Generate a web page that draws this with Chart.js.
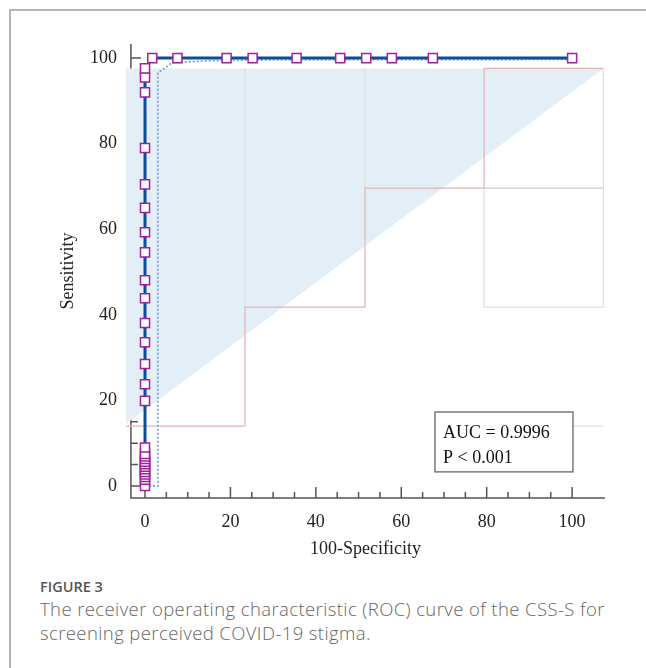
<!DOCTYPE html>
<html>
<head>
<meta charset="utf-8">
<script src="https://cdn.jsdelivr.net/npm/chart.js@4.4.1/dist/chart.umd.min.js"></script>
<style>
  body { margin: 0; background: #fff; }
  #frame { position: absolute; left: 9px; top: 9px; width: 640px; height: 662px;
           border-top: 2px solid #b4b4b4; border-left: 2px solid #b4b4b4; }
  #wrap { position: absolute; left: 0; top: 0; width: 646px; height: 560px; }
  #cap { position: absolute; left: 40px; top: 577px; width: 604px; font-family: "Open Sans", sans-serif; color: #666; }
  #cap .fig { font-size: 14.5px; font-weight: 600; color: #555; margin-bottom: 1px; }
  #cap .txt { font-size: 18.5px; line-height: 24px; font-weight: 300; letter-spacing: 0.4px; }
</style>
</head>
<body>
<div id="frame"></div>
<div id="wrap"><canvas id="roc"></canvas></div>
<div id="cap">
  <div class="fig">FIGURE 3</div>
  <div class="txt">The receiver operating characteristic (ROC) curve of the CSS-S for<br>screening perceived COVID-19 stigma.</div>
</div>
<script>
// ROC curve points (100-Specificity, Sensitivity)
const fpr  = [0, 0, 0, 0, 0, 0, 0, 0, 0, 0, 0, 0, 0, 0, 0, 0, 0, 0, 0, 0, 0, 0, 0, 0, 0, 0, 0, 0,
              1.7, 7.6, 19.1, 25.2, 35.5, 45.7, 51.8, 57.8, 67.4, 100];
const sens = [0, 1.5, 2.1, 2.7, 3.3, 3.9, 4.5, 5.1, 5.7, 6.3, 6.9, 7.5, 9.0, 19.9, 23.8, 28.5, 33.6, 38.1,
              43.9, 48.1, 54.6, 59.3, 65.0, 70.5, 79.0, 92.0, 95.5, 97.6,
              100, 100, 100, 100, 100, 100, 100, 100, 100, 100];

// dotted lower curve
const lowX = [0, 3.0, 3.0, 6.3, 15, 30, 100];
const lowY = [0, 0, 96.5, 98.9, 99.4, 99.6, 99.7];

// shaded band
const bandX = [-4.45, 107.3];
const bandTop = [97.6, 97.6];
const bandBottom = [14.5, 97.6];

// pink step line
const stepX = [-4.45, 23.4, 23.4, 51.5, 51.5, 79.4, 79.4, 107.3];
const stepY = [14, 14, 41.8, 41.8, 69.6, 69.6, 97.6, 97.6];

// grey segments
const greySegX = [[23.4, 23.4], [51.5, 51.5], [79.4, 79.4, 107.3, 107.3], [79.4, 107.3], [100.2, 107.3]];
const greySegY = [[41.8, 97.6], [69.6, 97.6], [69.6, 41.8, 41.8, 97.6], [69.6, 69.6], [14, 14]];

const xTicks = [0, 20, 40, 60, 80, 100];
const yTicks = [0, 20, 40, 60, 80, 100];
const aucText = ['AUC = 0.9996', 'P < 0.001'];

const pts = (xs, ys) => xs.map((x, i) => ({x: x, y: ys[i]}));
const serif = 'Liberation Serif';

const greySets = greySegX.map((xs, i) => ({
  data: pts(xs, greySegY[i]),
  showLine: true, borderColor: i === 3 ? '#cfcfcf' : '#dedede', borderWidth: 1.2,
  pointRadius: 0, fill: false
}));

const datasets = [
  { // ROC curve
    data: pts(fpr, sens), showLine: true,
    borderColor: '#0c4c9a', borderWidth: 3,
    pointStyle: 'rect', pointRadius: 6.4, pointBorderWidth: 1.5,
    pointBorderColor: '#a020a0', pointBackgroundColor: '#ffffff'
  },
  { // dotted
    data: pts(lowX, lowY), showLine: true,
    borderColor: '#78a4d8', borderWidth: 1.8, borderDash: [2, 2], pointRadius: 0
  },
  {
    data: pts(stepX, stepY), showLine: true,
    borderColor: '#e2b4b4', borderWidth: 1.2, pointRadius: 0
  },
  ...greySets,
  { // band top, filled down to diagonal (next dataset)
    data: pts(bandX, bandTop), showLine: true, borderWidth: 0, pointRadius: 0,
    backgroundColor: '#e3eef7', fill: {target: 4 + greySets.length}
  },
  {
    data: pts(bandX, bandBottom), showLine: true, borderWidth: 0, pointRadius: 0, fill: false
  }
];

const axisPlugin = {
  id: 'axisPlugin',
  // axes go under the datasets: the shaded band hides part of the y axis
  beforeDatasetsDraw(chart) {
    const ctx = chart.ctx, xs = chart.scales.x, ys = chart.scales.y;
    const x0 = xs.getPixelForValue(-3.3), y0 = ys.getPixelForValue(-2.8);
    ctx.save();
    ctx.strokeStyle = '#555';
    ctx.lineWidth = 1.5;
    ctx.beginPath();
    ctx.moveTo(x0, ys.getPixelForValue(103.3));
    ctx.lineTo(x0, y0);
    ctx.lineTo(xs.getPixelForValue(107.7), y0);
    // inward ticks every 5, longer at labelled values
    for (let v = 0; v <= 100; v += 5) {
      const px = xs.getPixelForValue(v);
      ctx.moveTo(px, y0);
      ctx.lineTo(px, y0 - (xTicks.includes(v) ? 11 : 6));
      const py = ys.getPixelForValue(v);
      ctx.moveTo(x0, py);
      ctx.lineTo(x0 + (yTicks.includes(v) ? 10 : 7), py);
    }
    ctx.stroke();
    ctx.restore();
  },
  afterDatasetsDraw(chart) {
    const ctx = chart.ctx, xs = chart.scales.x, ys = chart.scales.y;
    // AUC box
    const bl = xs.getPixelForValue(67.9), br = xs.getPixelForValue(100.2);
    const bt = ys.getPixelForValue(17.3), bb = ys.getPixelForValue(3.3);
    ctx.save();
    ctx.fillStyle = '#fff';
    ctx.fillRect(bl, bt, br - bl, bb - bt);
    ctx.strokeStyle = '#666';
    ctx.lineWidth = 1.3;
    ctx.strokeRect(bl, bt, br - bl, bb - bt);
    ctx.fillStyle = '#111';
    ctx.font = '18px "' + serif + '"';
    ctx.textBaseline = 'alphabetic';
    ctx.textAlign = 'left';
    aucText.forEach((t, i) => ctx.fillText(t, bl + 8, bt + 26 + i * 25));
    ctx.restore();
  }
};

new Chart(document.getElementById('roc').getContext('2d'), {
  type: 'scatter',
  data: { datasets: datasets },
  options: {
    responsive: true,
    maintainAspectRatio: false,
    animation: false,
    layout: { padding: { left: 40, right: 41, top: 44, bottom: 0 } },
    elements: { line: { tension: 0 } },
    plugins: { legend: { display: false }, tooltip: { enabled: false } },
    scales: {
      x: {
        type: 'linear', min: -4.45, max: 107.7,
        afterBuildTicks: s => { s.ticks = xTicks.map(v => ({value: v})); },
        afterFit: s => { s.height = 62; },
        grid: { display: false }, border: { display: false },
        ticks: { padding: 5, color: '#222', font: { family: serif, size: 18 } },
        title: { display: true, text: '100-Specificity', color: '#222', padding: 0,
                 font: { family: serif, size: 18 } }
      },
      y: {
        type: 'linear', min: -2.8, max: 103.3,
        afterBuildTicks: s => { s.ticks = yTicks.map(v => ({value: v})); },
        afterFit: s => { s.width = 86; },
        grid: { display: false }, border: { display: false },
        ticks: { padding: 1, color: '#222', font: { family: serif, size: 18 } },
        title: { display: true, text: 'Sensitivity', color: '#222', padding: { top: 17, bottom: 0 },
                 font: { family: serif, size: 18 } }
      }
    }
  },
  plugins: [axisPlugin]
});
</script>
</body>
</html>
